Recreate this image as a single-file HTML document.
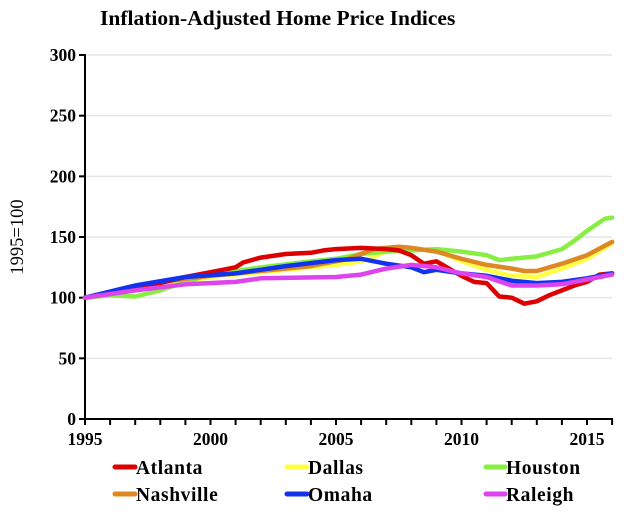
<!DOCTYPE html>
<html><head><meta charset="utf-8"><style>
body{margin:0;background:#fff;}
svg text{font-family:"Liberation Serif",serif;font-weight:bold;fill:#000;}
</style></head><body>
<svg id="c" width="640" height="521" xmlns="http://www.w3.org/2000/svg">
<rect width="640" height="521" fill="#fff"/>
<text x="100" y="25" font-size="21.5">Inflation-Adjusted Home Price Indices</text>
<g id="grid"></g>
<g id="lines"></g>
<text x="0" y="0" font-size="18.5" transform="translate(23,237) rotate(-90)" text-anchor="middle" style="font-weight:normal;fill:#000">1995=100</text>
<g id="legend" font-size="19.5" style="letter-spacing:0.6px">
<line x1="115" y1="467" x2="135" y2="467" stroke="#dd0000" stroke-width="5" stroke-linecap="round"/><text x="136" y="474">Atlanta</text>
<line x1="287" y1="467" x2="307" y2="467" stroke="#ffff44" stroke-width="5" stroke-linecap="round"/><text x="308" y="474">Dallas</text>
<line x1="486" y1="467" x2="505" y2="467" stroke="#88ee44" stroke-width="5" stroke-linecap="round"/><text x="506" y="474">Houston</text>
<line x1="115" y1="494" x2="135" y2="494" stroke="#dd8822" stroke-width="5" stroke-linecap="round"/><text x="136" y="501">Nashville</text>
<line x1="287" y1="494" x2="307" y2="494" stroke="#1133ee" stroke-width="5" stroke-linecap="round"/><text x="308" y="501">Omaha</text>
<line x1="486" y1="494" x2="505" y2="494" stroke="#dd44ee" stroke-width="5" stroke-linecap="round"/><text x="506" y="501">Raleigh</text>
</g>
</svg>
<script>
var X=function(y){return 85+25.1*(y-1995)},Y=function(v){return 419-1.2133*v};
var ns="http://www.w3.org/2000/svg",g=document.getElementById('grid'),L=document.getElementById('lines');
function el(p,t,a){var e=document.createElementNS(ns,t);for(var k in a)e.setAttribute(k,a[k]);p.appendChild(e);return e;}
for(var v=0;v<=300;v+=50){var y=Y(v);if(v>0)el(g,'line',{x1:85,x2:612,y1:y,y2:y,stroke:'#e6e6e6','stroke-width':1.5});
el(g,'line',{x1:79,x2:85,y1:y,y2:y,stroke:'#000','stroke-width':2});
var t=el(g,'text',{x:76,y:y+6,'font-size':17.5,'text-anchor':'end'});t.textContent=v;}
el(g,'line',{x1:85,x2:85,y1:Y(300)-1,y2:420,stroke:'#000','stroke-width':2});
el(g,'line',{x1:84,x2:613,y1:419,y2:419,stroke:'#000','stroke-width':2});
for(var yr=1995;yr<=2016;yr++){el(g,'line',{x1:X(yr),x2:X(yr),y1:419,y2:425,stroke:'#000','stroke-width':2});
if((yr-1995)%5==0){var t=el(g,'text',{x:X(yr),y:445,'font-size':17.5,'text-anchor':'middle'});t.textContent=yr;}}
var S=[
['#ffff44',[1995,100,1997,106,1999,113,2000,117,2002,121,2004,125,2005,127,2006,130,2007,138,2008,140,2009,139,2010,130,2011,123,2012,118,2013,117,2014,124,2015,132,2016,145]],
['#88ee44',[1995,100,1996,102,1997,101,1998,106,1999,113,2000,119,2002,125,2004,130,2005,132,2006,136,2007,138,2008,139,2009,140,2010,138,2011,135,2011.5,131,2012,132,2013,134,2014,140,2014.5,147,2015,155,2015.7,165,2016,166]],
['#dd8822',[1995,100,1998,113,2000,118,2002,122,2004,126,2005.5,132,2006.5,140,2007.5,142,2008,141,2009,138,2010,132,2011,127,2012,124,2012.5,122,2013,122,2014,128,2015,135,2016,146]],
['#dd0000',[1995,100,1996,104,1997,107,1998,112,1999,117,2000,121,2001,125,2001.3,129,2002,133,2003,136,2004,137,2004.5,139,2005,140,2006,141,2007,140,2007.5,139,2008,135,2008.5,128,2009,130,2009.5,124,2010,118,2010.5,113,2011,112,2011.5,101,2012,100,2012.5,95,2013,97,2013.5,102,2014,106,2014.5,110,2015,113,2015.5,119,2016,120]],
['#1133ee',[1995,100,1997,110,1999,117,2001,120,2003,126,2005,131,2006,132,2007,128,2008,125,2008.5,121,2009,123,2010,120,2011,118,2012,114,2013,112,2014,113,2015,116,2016,120]],
['#dd44ee',[1995,100,1997,106,1999,111,2001,113,2002,116,2005,117,2006,119,2007,124,2008,127,2009,125,2010,120,2011,117,2012,110,2013,110,2014,111,2015,115,2016,119]]];
S.forEach(function(s){var p=[];for(var i=0;i<s[1].length;i+=2)p.push(X(s[1][i]).toFixed(1)+','+Y(s[1][i+1]).toFixed(1));
el(L,'polyline',{points:p.join(' '),fill:'none',stroke:s[0],'stroke-width':4.5,'stroke-linejoin':'round','stroke-linecap':'round'});});
</script>
</body></html>
